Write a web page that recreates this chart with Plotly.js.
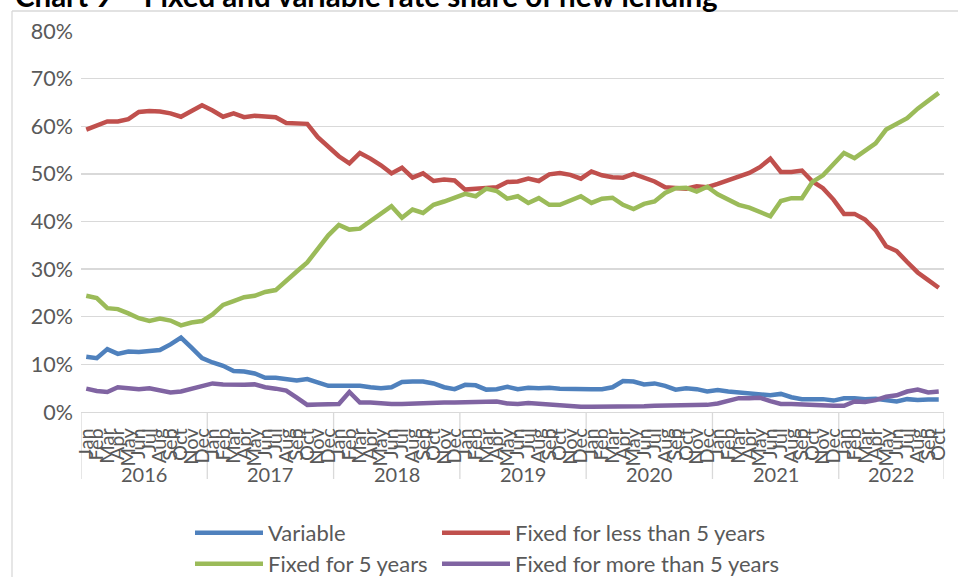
<!DOCTYPE html>
<html>
<head>
<meta charset="utf-8">
<script src="https://cdn.plot.ly/plotly-3.0.1.min.js"></script>
<style>
  html, body { margin: 0; padding: 0; background: #ffffff; }
  #chart { width: 958px; height: 577px; }
</style>
</head>
<body>
<div id="chart"></div>
<script>
// ---- Data (share of new lending, %) ----
const years = ['2016', '2017', '2018', '2019', '2020', '2021', '2022'];
const monthNames = ['Jan', 'Feb', 'Mar', 'Apr', 'May', 'Jun', 'Jul', 'Aug', 'Sep', 'Oct', 'Nov', 'Dec'];
const monthsPerYear = [12, 12, 12, 12, 12, 12, 10];

const variableRate = [
  11.6, 11.3, 13.2, 12.2, 12.7, 12.6, 12.8, 13.0, 14.2, 15.6, 13.5, 11.3,
  10.4, 9.7, 8.6, 8.5, 8.1, 7.2, 7.2, 7.0, 6.6, 6.9, 6.2, 5.5,
  5.5, 5.6, 5.5, 5.2, 5.0, 5.2, 6.3, 6.4, 6.4, 6.0, 5.2, 4.8,
  5.7, 5.6, 4.7, 4.8, 5.3, 4.8, 5.1, 5.0, 5.1, 4.9, 4.8, 4.8,
  4.8, 4.8, 5.2, 6.5, 6.4, 5.8, 6.0, 5.5, 4.7, 5.0, 4.8, 4.3,
  4.6, 4.3, 4.1, 4.1, 3.8, 3.5, 3.8, 3.1, 2.7, 2.7, 2.7, 2.4,
  2.9, 2.9, 2.7, 2.8, 2.5, 2.2, 2.7, 2.5, 2.6, 2.6
];
const fixedLess5 = [
  59.3, 60.2, 61.0, 61.0, 61.5, 63.0, 63.2, 63.1, 62.7, 62.0, 63.1, 64.4,
  63.3, 62.0, 62.7, 61.9, 62.2, 62.1, 61.9, 60.7, 60.5, 60.5, 57.7, 55.8,
  53.7, 52.2, 54.4, 53.2, 51.8, 50.1, 51.3, 49.2, 50.1, 48.5, 48.8, 48.6,
  46.7, 46.9, 47.0, 47.2, 48.3, 48.4, 49.0, 48.5, 49.9, 50.2, 49.8, 49.0,
  50.5, 49.7, 49.3, 49.2, 50.0, 49.2, 48.4, 47.2, 47.1, 46.9, 47.4, 47.2,
  47.9, 48.7, 49.5, 50.2, 51.4, 53.2, 50.4, 50.4, 50.7, 48.4, 47.0, 44.6,
  41.6, 41.6, 40.4, 38.2, 34.8, 33.8, 31.5, 29.3, 27.7, 26.1
];
const fixed5 = [
  24.4, 23.9, 21.8, 21.6, 20.7, 19.7, 19.1, 19.6, 19.2, 18.2, 18.8, 19.1,
  20.5, 22.5, 23.3, 24.1, 24.4, 25.2, 25.6, 27.4, 29.5, 31.4, 34.4, 37.1,
  39.3, 38.3, 38.5, 40.1, 41.7, 43.2, 40.8, 42.5, 41.8, 43.5, 44.2, 44.9,
  45.8, 45.3, 46.9, 46.4, 44.8, 45.3, 43.9, 44.9, 43.5, 43.5, 44.4, 45.3,
  43.9, 44.8, 45.0, 43.5, 42.6, 43.7, 44.2, 46.0, 47.0, 47.1, 46.3, 47.3,
  45.7, 44.6, 43.5, 42.9, 42.0, 41.1, 44.3, 44.9, 44.9, 48.3, 49.7, 52.0,
  54.4, 53.3, 54.8, 56.4, 59.3, 60.4, 61.7, 63.7, 65.5, 67.0
];
const fixedMore5 = [
  4.9, 4.4, 4.2, 5.2, 5.0, 4.8, 5.0, 4.6, 4.1, 4.3, 4.8, 5.3,
  6.0, 5.8, 5.7, 5.7, 5.8, 5.2, 4.9, 4.5, 3.0, 1.5, 1.6, 1.6,
  1.7, 4.2, 2.0, 2.0, 1.8, 1.7, 1.7, 1.8, 2.0, 2.1, 2.0, 2.0,
  2.0, 2.1, 2.0, 2.2, 1.8, 1.7, 1.9, 1.7, 1.5, 1.4, 1.3, 1.1,
  1.1, 1.1, 1.0, 1.0, 1.0, 1.2, 1.3, 1.3, 1.3, 1.3, 1.4, 1.5,
  1.8, 2.3, 2.9, 2.9, 3.0, 2.3, 1.7, 1.7, 1.6, 1.3, 1.3, 1.3,
  1.3, 2.2, 2.1, 2.5, 3.2, 3.5, 4.3, 4.7, 4.1, 4.3
];

const seriesNames = ['Variable', 'Fixed for less than 5 years', 'Fixed for 5 years', 'Fixed for more than 5 years'];
const seriesColors = ['#4F81BD', '#C0504D', '#9BBB59', '#8064A2'];

// ---- Category positions (one slot per month) ----
const monthCat = [];
const yearStart = [];
years.forEach(function (yr, k) {
  yearStart.push(monthCat.length);
  for (let m = 0; m < monthsPerYear[k]; m++) monthCat.push(monthNames[m]);
});
const xIdx = monthCat.map(function (_, i) { return i; });

const FONT = 'Lato, "Open Sans", sans-serif';
const GREY = '#595959';
const LIGHT = '#d9d9d9';

const allSeries = [variableRate, fixedLess5, fixed5, fixedMore5];
const legendIds = ['legend', 'legend2', 'legend3', 'legend4'];
const traces = allSeries.map(function (vals, k) {
  return {
    type: 'scatter',
    mode: 'lines',
    x: xIdx,
    y: vals,
    name: seriesNames[k],
    legend: legendIds[k],
    line: { color: seriesColors[k], width: 4.5, shape: 'linear' },
    hoverinfo: 'skip'
  };
});

const W = 958, H = 577;
const mL = 81, mR = 14, mT = 31, mB = 165;
const pw = W - mL - mR, ph = H - mT - mB;
function px2x(p) { return (p - mL) / pw; }
function px2y(p) { return (H - mB - p) / ph; }

function mkLegend(xpx, ypx) {
  return {
    orientation: 'h',
    x: px2x(xpx),
    y: px2y(ypx),
    xanchor: 'left',
    yanchor: 'middle',
    bgcolor: 'rgba(0,0,0,0)',
    borderwidth: 0,
    font: { family: FONT, size: 22, color: GREY },
    itemwidth: 68,
    tracegroupgap: 0
  };
}

// Year group labels and dividers (positions from category counts)
const yearAnnotations = years.map(function (yr, k) {
  return {
    text: yr, xref: 'x', yref: 'paper',
    x: yearStart[k] + (monthsPerYear[k] - 1) / 2,
    y: px2y(474), xanchor: 'center', yanchor: 'middle',
    showarrow: false, font: { family: FONT, size: 20, color: GREY }
  };
});
const dividerShapes = years.map(function (yr, k) { return yearStart[k] - 0.5; })
  .concat([monthCat.length - 0.5])
  .map(function (xv) {
    return { type: 'line', xref: 'x', yref: 'paper', x0: xv, x1: xv, y0: 0, y1: px2y(479),
             line: { color: LIGHT, width: 1.3 }, layer: 'below' };
  });

const layout = {
  width: W,
  height: H,
  margin: { l: mL, r: mR, t: mT, b: mB, pad: 0, autoexpand: false },
  paper_bgcolor: '#ffffff',
  plot_bgcolor: '#ffffff',
  font: { family: FONT, color: GREY },
  showlegend: true,
  legend: mkLegend(190, 533),
  legend2: mkLegend(437, 533),
  legend3: mkLegend(190, 564),
  legend4: mkLegend(437, 564),
  xaxis: {
    type: 'linear',
    range: [-0.5, monthCat.length - 0.5],
    tickmode: 'array',
    tickvals: xIdx,
    ticktext: monthCat,
    tickangle: -90,
    tickfont: { family: FONT, size: 20, color: GREY },
    ticklabelstandoff: 7,
    showline: true,
    linecolor: LIGHT,
    linewidth: 1.3,
    showgrid: false,
    zeroline: false,
    ticks: ''
  },
  yaxis: {
    range: [0, 80],
    dtick: 10,
    tick0: 0,
    ticksuffix: '%',
    tickfont: { family: FONT, size: 21.5, color: GREY },
    ticklabelstandoff: 7,
    showgrid: true,
    gridcolor: LIGHT,
    gridwidth: 1.3,
    zeroline: false,
    showline: false,
    ticks: '',
    fixedrange: true
  },
  shapes: [
    { type: 'line', xref: 'paper', yref: 'paper', x0: px2x(12), x1: px2x(12), y0: px2y(11), y1: px2y(600),
      line: { color: LIGHT, width: 1.3 }, layer: 'below' },
    { type: 'line', xref: 'paper', yref: 'paper', x0: px2x(12), x1: px2x(980), y0: px2y(11), y1: px2y(11),
      line: { color: LIGHT, width: 1.3 }, layer: 'below' }
  ].concat(dividerShapes),
  annotations: [
    { text: '<b>Chart 9 \u2013 Fixed and variable rate share of new lending</b>',
      xref: 'paper', yref: 'paper', x: px2x(13), y: px2y(15), xanchor: 'left', yanchor: 'bottom',
      showarrow: false, font: { family: FONT, size: 29.5, color: '#000000' } }
  ].concat(yearAnnotations)
};

Plotly.newPlot('chart', traces, layout, { displayModeBar: false, staticPlot: true });
</script>
</body>
</html>
